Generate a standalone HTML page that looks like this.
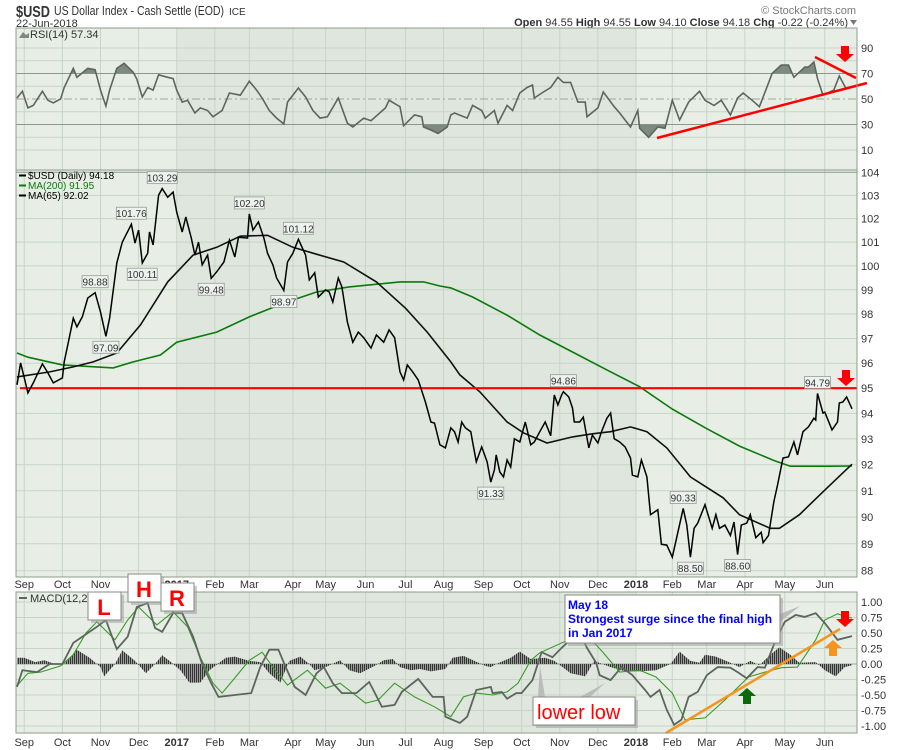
<!DOCTYPE html>
<html><head><meta charset="utf-8"><title>$USD chart</title>
<style>
body{margin:0;background:#fff;}
svg{display:block;font-family:"Liberation Sans",sans-serif;}
</style></head>
<body>
<svg id="chart" width="900" height="750" viewBox="0 0 900 750">
  <defs>
    <pattern id="stripes" width="2" height="4" patternUnits="userSpaceOnUse"><rect x="0" y="0" width="1" height="4" fill="#333"/><rect x="1" y="0" width="1" height="4" fill="#9a9a9a"/></pattern>
  </defs>
  <g>
    <text x="16" y="17" font-size="16" font-weight="bold" fill="#333" textLength="34" lengthAdjust="spacingAndGlyphs">$USD</text>
    <text x="54" y="15" font-size="12.5" fill="#333" textLength="170" lengthAdjust="spacingAndGlyphs">US Dollar Index - Cash Settle (EOD)</text>
    <text x="229" y="15" font-size="10" fill="#333">ICE</text>
    <text x="16" y="27" font-size="11" fill="#333">22-Jun-2018</text>
    <text x="856" y="14" font-size="11" fill="#777" text-anchor="end">© StockCharts.com</text>
    <text x="848" y="26" font-size="11" fill="#333" text-anchor="end"><tspan font-weight="bold">Open</tspan> 94.55  <tspan font-weight="bold">High</tspan> 94.55  <tspan font-weight="bold">Low</tspan> 94.10  <tspan font-weight="bold">Close</tspan> 94.18  <tspan font-weight="bold">Chg</tspan> -0.22 (-0.24%)</text>
    <path d="M850 20 L857 20 L853.5 25 Z" fill="#777"/>
  </g>
  <g id="panels"></g>
</svg>
<script>
// ---------- data ----------
const monthDays = [4,25,46,67,88,109,128,152,170,192,214,235,257,278,299,320,341,361,380,401,423,445];
const monthLabels = ["Sep","Oct","Nov","Dec","2017","Feb","Mar","Apr","May","Jun","Jul","Aug","Sep","Oct","Nov","Dec","2018","Feb","Mar","Apr","May","Jun"];
const priceDays = [0,2,4,6,9,11,14,17,20,25,26,28,31,33,36,39,43,46,49,51,55,58,63,65,67,69,72,73,75,78,80,83,86,88,91,93,96,98,100,102,105,107,110,114,117,120,122,127,128,130,133,136,138,141,143,147,149,152,155,159,161,164,166,170,172,174,177,179,182,185,188,191,195,198,202,205,208,211,213,215,218,221,225,228,230,233,236,239,241,243,245,247,250,251,253,256,259,261,263,264,266,268,270,272,274,277,280,283,285,288,291,294,296,298,300,301,304,306,307,310,312,315,317,320,322,325,327,329,332,335,338,339,342,344,347,349,353,355,358,361,364,367,369,371,373,375,379,383,385,387,390,393,395,397,399,402,404,407,410,411,414,417,419,422,425,428,430,433,436,439,440,441,444,445,449,452,453,455,457,460];
const priceVals = [95.13,96.01,95.41,94.81,95.21,95.53,95.97,95.61,95.21,95.41,96.05,96.74,97.83,97.47,97.88,98.66,98.88,98.08,97.09,97.83,100.12,101.0,101.76,100.96,101.51,100.12,100.53,101.43,100.88,103.01,103.29,102.92,103.14,102.28,101.43,102.07,101.17,100.45,101.0,100.04,100.45,99.48,99.75,100.16,101.08,100.37,101.21,101.17,102.2,101.51,101.86,101.17,100.53,100.04,99.49,98.97,100.16,100.53,101.12,100.45,99.41,99.71,98.7,99.0,98.91,98.49,99.49,99.12,97.67,96.85,97.26,97.03,96.61,97.14,96.85,97.35,97.03,95.65,95.33,95.93,95.65,95.33,94.45,93.66,93.62,92.77,92.65,93.43,93.28,92.88,93.66,93.43,93.28,92.88,92.11,92.69,92.11,91.33,91.8,92.38,91.72,91.53,92.18,91.91,93.01,92.88,93.66,92.77,92.88,93.28,93.66,93.12,94.73,94.33,94.73,94.86,94.65,94.21,93.66,93.66,93.85,92.65,93.15,92.84,93.28,93.81,94.01,93.01,92.88,92.69,92.26,91.6,91.53,92.18,91.53,90.09,90.28,88.98,88.95,88.5,89.4,90.33,89.7,88.5,89.58,89.77,90.47,89.58,90.09,89.58,89.7,89.31,89.81,88.6,89.7,89.77,90.09,89.23,89.43,89.04,89.31,90.59,91.23,92.26,92.3,92.88,92.38,93.28,93.47,93.81,93.74,94.79,94.01,94.05,93.35,93.66,94.41,94.45,94.65,94.18];
const ma200Days = [0,6,25,53,64,79,88,110,128,147,165,183,211,224,233,239,251,270,288,306,325,343,361,380,398,417,426,448,460];
const ma200Vals = [96.41,96.24,95.93,95.81,96.05,96.33,96.85,97.26,97.88,98.45,98.91,99.12,99.33,99.33,99.16,99.08,98.7,97.95,97.14,96.45,95.73,95.06,94.17,93.4,92.72,92.16,91.94,91.94,91.95];
const ma65Days = [0,18,31,42,55,68,83,97,110,123,138,152,165,180,198,214,226,233,239,244,255,270,279,292,306,317,327,338,347,358,371,389,398,415,420,431,444,460];
const ma65Vals = [95.45,95.65,95.85,96.05,96.41,97.55,99.33,100.45,100.78,101.25,101.29,100.78,100.49,100.16,99.33,98.24,97.26,96.61,96.05,95.53,94.85,93.66,93.24,92.84,93.08,93.2,93.28,93.47,93.28,92.65,91.53,90.73,90.09,89.58,89.58,90.09,90.96,92.02];
const rsiDays = [0,3,6,9,14,17,20,24,26,31,33,39,43,46,49,51,55,59,64,66,69,72,75,78,83,86,88,91,94,98,101,105,108,113,117,123,128,132,135,139,143,147,149,155,159,163,167,171,177,182,185,191,195,203,205,211,213,219,223,224,228,232,237,239,241,248,251,256,258,263,265,270,273,277,281,284,285,290,294,298,301,305,309,313,314,320,323,329,332,338,342,343,348,353,357,361,365,370,376,379,384,388,393,397,400,405,409,414,416,421,425,428,434,436,439,441,444,450,453,457,460];
const rsiVals = [50.8,56,43,45,56,49,47,50,59,74,67,74,73,57,44.5,57,74,78,71,65.7,51.6,59,57,69,67,66,57,47.6,49,39,43,41,36,41,54.7,53,64,57,50.8,41,35,30.4,47.6,58.6,51.6,41,35,36,50.8,31,28,35,33,43,49,44,29,37.5,36,28,25.7,23,28,37.5,39,35,45,41,35,41,31,45,41,54.7,59,61,50.8,55.5,59,67,63,63,47.6,47.6,36,43,55.5,44,39,28,41,27,20,28,27,49,33.5,47.6,56,49,45,49,37.5,50.8,54.7,49,44,62.5,70,76.7,76.7,67,75,75,79,66,53,57,68,57.34];
const macdDays = [0,3,11,18,25,31,44,49,53,55,61,66,72,76,80,86,91,97,102,107,111,129,134,139,144,148,153,159,165,169,174,179,187,194,201,208,212,221,229,235,236,244,248,253,261,262,267,270,275,278,284,289,295,300,306,310,314,319,321,327,333,339,346,349,354,358,362,366,370,375,380,386,393,397,402,408,412,418,423,429,434,440,445,452,460];
const macdVals = [-0.37,-0.1,-0.13,0,0,0.34,0.6,0.71,0.39,0.24,0.44,0.92,0.98,0.58,0.52,0.82,0.82,0.44,0,-0.31,-0.53,-0.47,-0.05,0.23,0.23,-0.05,-0.37,-0.5,-0.15,-0.05,-0.31,-0.47,-0.47,-0.29,-0.69,-0.66,-0.45,-0.24,-0.53,-0.53,-0.85,-0.95,-0.85,-0.42,-0.37,-0.47,-0.45,-0.56,-0.47,-0.47,-0.26,0.19,0.11,0.26,0.42,0.5,0.26,0.02,-0.18,-0.26,-0.05,-0.18,-0.42,-0.53,-0.42,-0.74,-0.98,-0.9,-0.53,-0.45,-0.18,-0.05,-0.06,-0.13,-0.23,-0.05,-0.06,0.39,0.68,0.79,0.76,0.82,0.66,0.39,0.45,0.42];
const signalDays = [0,6,13,24,31,38,44,54,61,67,77,86,94,101,108,113,119,128,135,141,149,160,170,178,192,199,208,219,230,239,246,253,262,270,276,283,288,304,314,323,332,343,352,361,368,379,390,403,412,421,430,440,445,452,460];
const signalVals = [-0.35,-0.15,-0.13,-0.03,0.15,0.5,0.68,0.39,0.71,0.92,0.63,0.84,0.6,0.11,-0.31,-0.47,-0.26,0.06,0.19,-0.05,-0.34,-0.1,-0.39,-0.31,-0.63,-0.58,-0.31,-0.53,-0.69,-0.85,-0.53,-0.47,-0.5,-0.45,-0.31,0.06,0.18,0.39,0.47,0.18,-0.13,-0.1,-0.21,-0.47,-0.9,-0.87,-0.58,-0.21,-0.13,-0.06,-0.05,0.39,0.71,0.81,0.74,0.52,0.47];
const histDays = [0,4,10,15,21,26,33,40,46,48,54,58,65,71,76,80,84,90,95,101,106,115,120,128,134,139,145,150,156,161,164,170,178,183,189,197,202,207,211,217,222,228,236,240,246,252,258,261,264,272,277,283,291,296,305,313,318,327,335,343,352,360,365,371,376,379,385,393,398,404,409,415,420,426,431,440,445,451,456,460];
const histVals = [0.1,0.1,0.03,0.06,0,0,0.23,0.1,-0.05,-0.2,0,0.22,0.05,-0.15,0,0.14,0.05,-0.1,-0.3,-0.3,-0.1,0.1,0.12,0.05,0.03,-0.15,-0.3,0.05,0.12,0,-0.1,-0.05,0.06,-0.1,-0.15,-0.03,0.06,0.08,-0.05,-0.1,-0.08,-0.12,-0.08,0.1,0.13,0.05,-0.03,-0.05,0,0.1,0.2,0.08,0.1,0.05,-0.15,-0.2,0.05,-0.05,-0.12,-0.12,-0.1,0,0.2,0.05,0.02,0.15,0.12,0.02,-0.05,0.05,-0.02,0.15,0.27,0.15,0.02,0.03,-0.1,-0.2,-0.05,-0.02];
const priceTicks = [88,89,90,91,92,93,94,95,96,97,98,99,100,101,102,103,104];
const rsiTicks = [10,30,50,70,90];
const macdTicks = [1,0.75,0.5,0.25,0,-0.25,-0.5,-0.75,-1];
const resistanceLevel = 95;
const priceCallouts = [[43,98.88,"98.88",-1],[49,97.09,"97.09",1],[63,101.76,"101.76",-1],[69,100.11,"100.11",1],[80,103.29,"103.29",-1],[107,99.48,"99.48",1],[128,102.2,"102.20",-1],[155,101.12,"101.12",-1],[147,98.97,"98.97",1],[261,91.33,"91.33",1],[301,94.86,"94.86",-1],[367,90.33,"90.33",-1],[371,88.5,"88.50",1],[397,88.6,"88.60",1],[441,94.79,"94.79",-1]];

// ---------- layout ----------
const X0=17, X1=852, L=16, R=857;
const NS="http://www.w3.org/2000/svg";
const svg=document.getElementById('panels');
function xs(d){return X0+(d/460)*(X1-X0);}
const yP=v=>172.3+(Math.log(104)-Math.log(v))/Math.log(104/88)*398.4;
const yR=v=>99-(v-50)*1.275;
const yM=v=>664-v*62;
function mk(tag,attrs,parent){const e=document.createElementNS(NS,tag);for(const k in attrs)e.setAttribute(k,attrs[k]);(parent||svg).appendChild(e);return e;}
function pts(days,vals,yf){return days.map((d,i)=>xs(d).toFixed(1)+","+yf(vals[i]).toFixed(1)).join(" ");}

function panel(name,top,bot){
  const g=mk('g',{});
  
  
  mk('rect',{x:L,y:top,width:R-L,height:bot-top,fill:'#e8eee6'},g);
  mk('rect',{x:xs(88),y:top,width:xs(341)-xs(88),height:bot-top,fill:'#dfe6dd'},g);
  monthDays.forEach(d=>{const l=mk('line',{x1:xs(d),x2:xs(d),y1:top,y2:bot,stroke:'#c5d6c4','stroke-width':1},g);
    
    });
  return g;
}
function border(g,top,bot){mk('rect',{x:L,y:top,width:R-L,height:bot-top,fill:'none',stroke:'#8c9c8c','stroke-width':1},g);}
function axisLabels(g,y){
  monthDays.forEach((d,i)=>{const t=mk('text',{x:xs(d),y:y,'font-size':11,'text-anchor':'middle',fill:'#333','font-weight':monthLabels[i].length===4?'bold':'normal'},g);
    t.textContent=monthLabels[i];
    
    });
}

// ---------- RSI panel ----------
const gR=panel('rsi-panel',28,170);
for(let v=10;v<=90;v+=10){const l=mk('line',{x1:L,x2:R,y1:yR(v),y2:yR(v),stroke:(v===70||v===30)?'#8a9a8a':'#c5d6c4','stroke-width':1,'stroke-dasharray':v===50?'8,3,2,3':'none'},gR);
  if(v===50)l.setAttribute('stroke','#9aaa9a');}
mk('defs',{},gR).innerHTML='<clipPath id="ob"><rect x="0" y="0" width="900" height="'+yR(70)+'"/></clipPath><clipPath id="os"><rect x="0" y="'+yR(30)+'" width="900" height="100"/></clipPath>';
const rp=pts(rsiDays,rsiVals,yR);
const f1=mk('polygon',{points:xs(0)+","+yR(70)+" "+rp+" "+xs(460)+","+yR(70),fill:'#7f8a7f','clip-path':'url(#ob)'},gR);


const f2=mk('polygon',{points:xs(0)+","+yR(30)+" "+rp+" "+xs(460)+","+yR(30),fill:'#7f8a7f','clip-path':'url(#os)'},gR);


const rl=mk('polyline',{points:rp,fill:'none',stroke:'#5d665d','stroke-width':1.6},gR);


rsiTicks.forEach(v=>{const t=mk('text',{x:861,y:yR(v)+4,'font-size':11,fill:'#333'},gR);t.textContent=v;
  
  });
const rt=mk('text',{x:30,y:38,'font-size':11,fill:'#333'},gR);rt.textContent='RSI(14) 57.34';


mk('path',{d:'M19 38 L23 32 L26 35 L29 33 L29 38 Z',fill:'#7f8a7f'},gR);
const tl1=mk('line',{x1:657,y1:138,x2:867,y2:83,stroke:'#f00','stroke-width':2.5},gR);


const tl2=mk('line',{x1:815,y1:57,x2:856,y2:78,stroke:'#f00','stroke-width':2.5},gR);


border(gR,28,170);

// ---------- price panel ----------
const gP=panel('price-panel',170,577);
priceTicks.forEach(v=>{mk('line',{x1:L,x2:R,y1:yP(v),y2:yP(v),stroke:v===104?'#8a9a8a':'#c5d6c4','stroke-width':1},gP);
  const t=mk('text',{x:861,y:yP(v)+4,'font-size':11,fill:'#333'},gP);t.textContent=v;
  
  });
const m200=mk('polyline',{points:pts(ma200Days,ma200Vals,yP),fill:'none',stroke:'#0a7a0a','stroke-width':1.6},gP);


const m65=mk('polyline',{points:pts(ma65Days,ma65Vals,yP),fill:'none',stroke:'#111','stroke-width':1.6},gP);


const res=mk('line',{x1:20,x2:R,y1:yP(resistanceLevel),y2:yP(resistanceLevel),stroke:'#f00','stroke-width':2.2},gP);


const pl=mk('polyline',{points:pts(priceDays,priceVals,yP),fill:'none',stroke:'#000','stroke-width':1.5},gP);


priceCallouts.forEach(c=>{const x=xs(c[0]),y=yP(c[1]);const w=c[2].length>5?30:26;const by=c[3]<0?y-17:y+5;
  const g=mk('g',{},gP);
  
  
  mk('rect',{x:x-w/2,y:by,width:w,height:12,fill:'#eef2ee',stroke:'#999','stroke-width':0.8},g);
  const t=mk('text',{x:x,y:by+10,'font-size':10,'text-anchor':'middle',fill:'#333'},g);t.textContent=c[2];});
[['$USD (Daily) 94.18','#000',179],['MA(200) 91.95','#0a7a0a',189],['MA(65) 92.02','#000',199]].forEach((e,i)=>{
  mk('line',{x1:19,x2:26,y1:e[2]-3.5,y2:e[2]-3.5,stroke:e[1],'stroke-width':2},gP);
  const t=mk('text',{x:28,y:e[2],'font-size':10,fill:e[1]},gP);t.textContent=e[0];
  
  });
border(gP,170,577);
const gx=mk('g',{});
axisLabels(gx,588);

// ---------- MACD panel ----------
const gM=panel('macd-panel',592,733);
macdTicks.forEach(v=>{mk('line',{x1:L,x2:R,y1:yM(v),y2:yM(v),stroke:v===0?'#9aaa9a':'#c5d6c4','stroke-width':1},gM);
  const t=mk('text',{x:861,y:yM(v)+4,'font-size':11,fill:'#333'},gM);t.textContent=v.toFixed(2);
  
  });
const hist=mk('polygon',{points:xs(0)+","+yM(0)+" "+pts(histDays,histVals,yM)+" "+xs(460)+","+yM(0),fill:'url(#stripes)'},gM);


const sg=mk('polyline',{points:pts(signalDays,signalVals,yM),fill:'none',stroke:'#3a9a2a','stroke-width':1.1},gM);


const ml=mk('polyline',{points:pts(macdDays,macdVals,yM),fill:'none',stroke:'#5d665d','stroke-width':1.8},gM);


const mt=mk('text',{x:30,y:602,'font-size':11,fill:'#333'},gM);mt.textContent='MACD(12,26,9)';


mk('line',{x1:19,x2:27,y1:598,y2:598,stroke:'#5d665d','stroke-width':2},gM);
const ot=mk('line',{x1:666,y1:733,x2:840,y2:629,stroke:'#f7941d','stroke-width':2.5},gM);


border(gM,592,733);
const gx2=mk('g',{});
axisLabels(gx2,746);

// ---------- annotations ----------
const an=mk('g',{});


function downArrow(x,y,c,n){const p=mk('path',{d:`M${x-4} ${y} h8 v8 h5 l-9 8 l-9 -8 h5 z`,fill:c},an);}
function upArrow(x,y,c,n){const p=mk('path',{d:`M${x} ${y} l9 8 h-5 v8 h-8 v-8 h-5 z`,fill:c},an);}
downArrow(845,46,'#f00','rsi-down-arrow');
downArrow(846,370,'#f00','price-down-arrow');
downArrow(845,611,'#f00','macd-down-arrow');
upArrow(833,640,'#f7941d','macd-orange-up-arrow');
upArrow(747,688,'#0a6a0a','macd-green-up-arrow');
function box(x,y,w,h,n){mk('rect',{x:x+3,y:y+3,width:w,height:h,fill:'#999',opacity:0.5},an);
  const r=mk('rect',{x:x,y:y,width:w,height:h,fill:'#fff',stroke:'#888','stroke-width':1},an);}
[['L',88,592],['H',128,574],['R',161,583]].forEach(b=>{box(b[1],b[2],33,28,'macd-label-'+b[0].toLowerCase());
  const t=mk('text',{x:b[1]+16,y:b[2]+23,'font-size':22,'font-weight':'bold',fill:'#f00','text-anchor':'middle'},an);t.textContent=b[0];
  
  });
mk('path',{d:'M780 614 L800 606 L780 622 Z',fill:'#bbb'},an);
box(565,595,215,48,'may18-note');
['May 18','Strongest surge since the final high','in Jan 2017'].forEach((s,i)=>{const t=mk('text',{x:568,y:609+i*14,'font-size':12,'font-weight':'bold',fill:'#00f'},an);t.textContent=s;
  
  });
mk('path',{d:'M538 697 L540 666 L545 697 Z',fill:'#bbb'},an);
mk('path',{d:'M580 697 L605 683 L590 697 Z',fill:'#bbb'},an);
box(533,697,102,28,'lower-low-note');
const ll=mk('text',{x:537,y:719,'font-size':20,fill:'#f00'},an);ll.textContent='lower low';


</script>
</body></html>
